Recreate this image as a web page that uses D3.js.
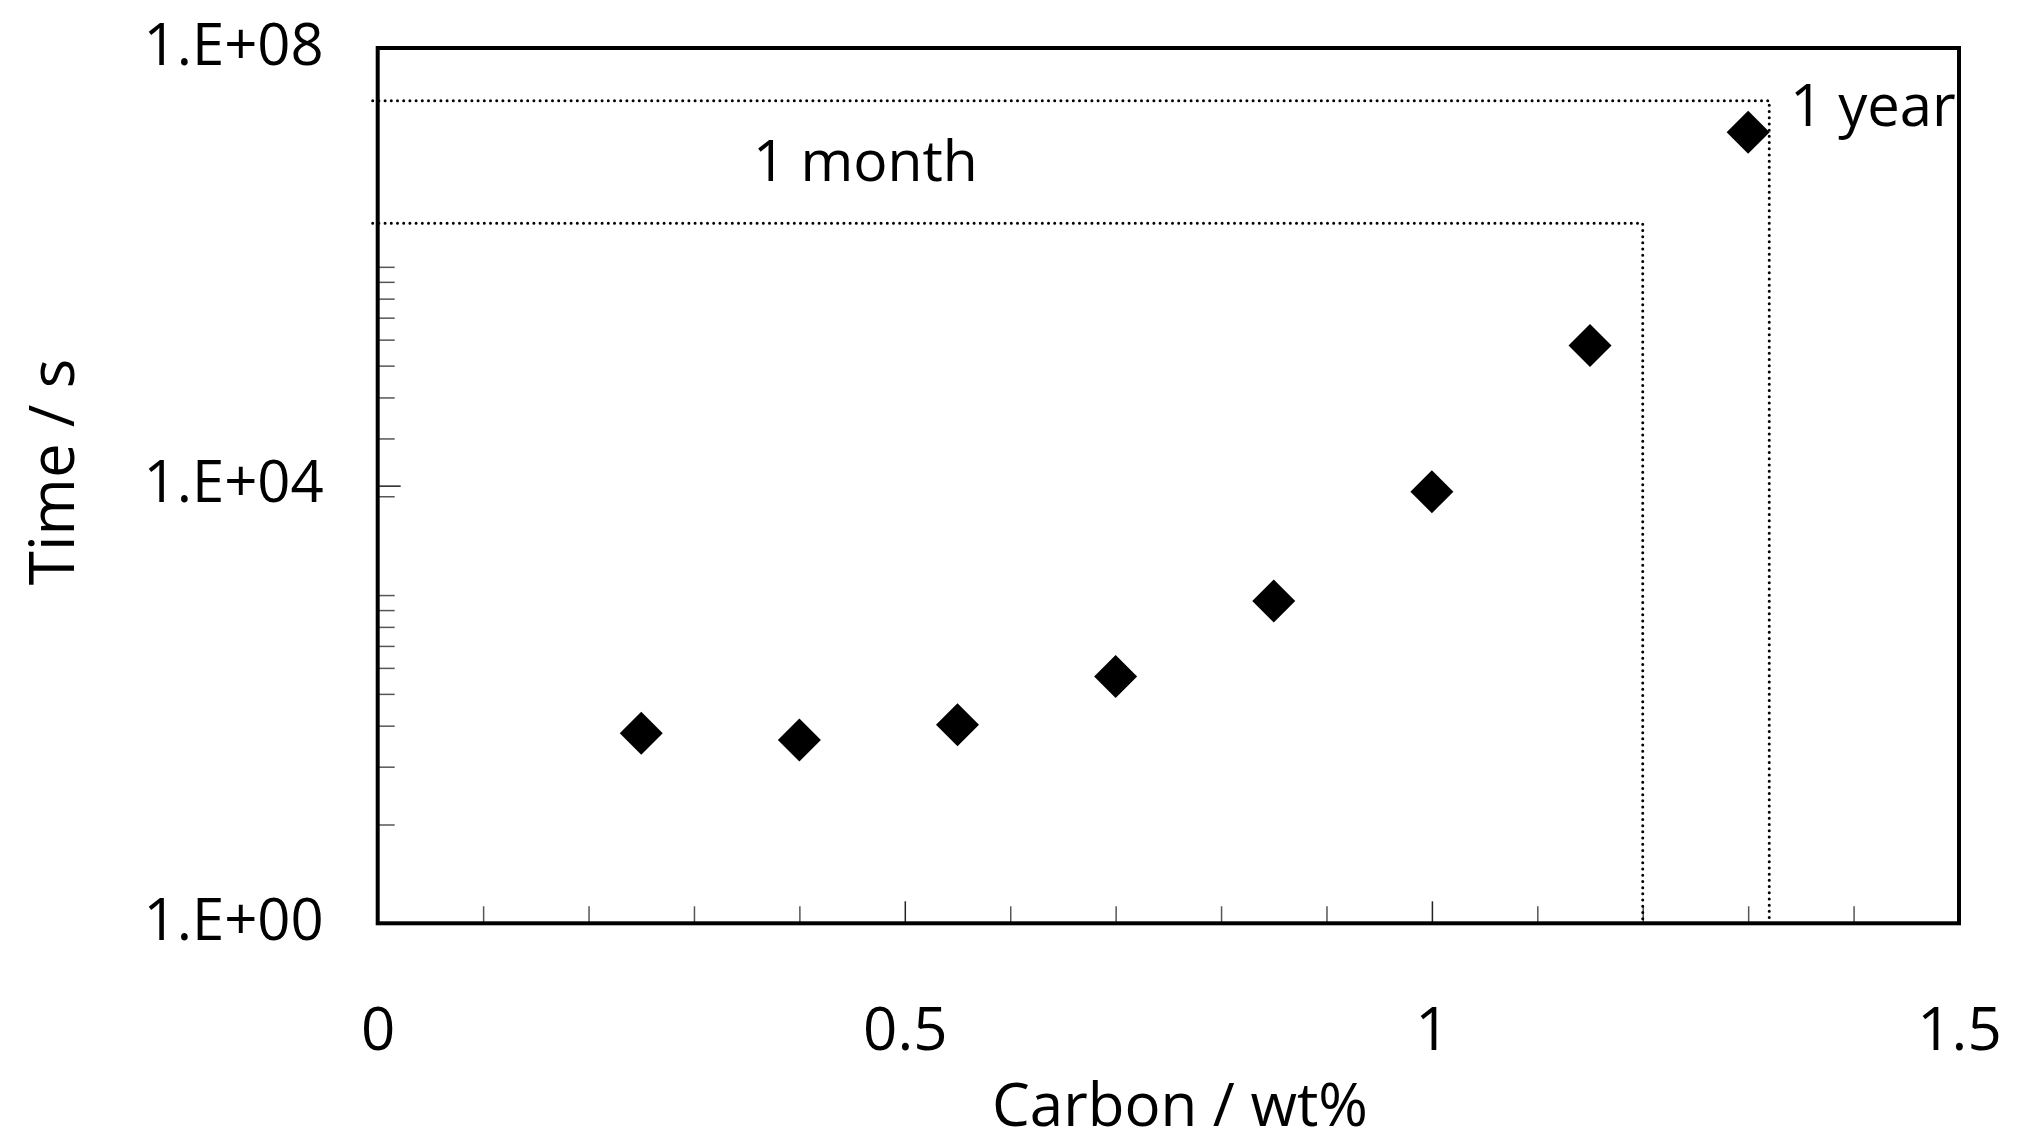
<!DOCTYPE html>
<html>
<head>
<meta charset="utf-8">
<script src="https://cdn.jsdelivr.net/npm/d3@7"></script>
<style>
  html, body { margin: 0; padding: 0; background: #fff; }
  svg text { font-family: "Open Sans", "DejaVu Sans", sans-serif; fill: #000; }
</style>
</head>
<body>
<svg id="chart" width="2023" height="1144"></svg>
<script>
// carbon content vs. time, log time axis
const carbon = [0.25, 0.4, 0.55, 0.7, 0.85, 1.0, 1.15, 1.3];
const timeSec = [54.5, 47.4, 65.4, 180, 883, 8810, 190500, 1.7e7];

// reference limits: label, carbon at the corner, time level
const limitLabels = ["1 month", "1 year"];
const limitCarbon = [1.2, 1.32];
const limitTime = [2.5e6, 3.3e7];

const xMajor = [0, 0.5, 1, 1.5];
const xMinor = [0.1, 0.2, 0.3, 0.4, 0.6, 0.7, 0.8, 0.9, 1.1, 1.2, 1.3, 1.4];
const yMajor = [1, 1e4, 1e8];
const yMinor = [8, 27, 64, 125, 216, 343, 512, 729, 1000,
                8000, 27000, 64000, 125000, 216000, 343000, 512000, 729000, 1e6];

const plotLeft = 377.7, plotRight = 1959, plotTop = 48, plotBottom = 923.3;

const svg = d3.select("#chart");

const x = d3.scaleLinear().domain([0, 1.5]).range([plotLeft, plotRight]);
const y = d3.scaleLog().domain([1, 1e8]).range([plotBottom, plotTop]);

const expFmt = d => "1.E+" + String(Math.round(Math.log10(d))).padStart(2, "0");

// x axis - minor ticks
svg.append("g")
    .attr("transform", `translate(0,${plotBottom})`)
    .call(d3.axisBottom(x).tickValues(xMinor).tickSize(-17).tickFormat(""))
    .call(g => g.select(".domain").remove())
    .call(g => g.selectAll("line").attr("stroke", "#555").attr("stroke-width", 1.5));

// x axis - major ticks + labels
svg.append("g")
    .attr("transform", `translate(0,${plotBottom})`)
    .call(d3.axisBottom(x).tickValues(xMajor).tickSize(-22).tickPadding(84)
        .tickFormat(d => d3.format("")(d)))
    .call(g => g.select(".domain").remove())
    .call(g => g.selectAll("line").attr("stroke", "#222").attr("stroke-width", 1.5))
    .call(g => g.selectAll("text").attr("font-size", 60).attr("fill", "#000"));

// y axis - minor ticks
svg.append("g")
    .attr("transform", `translate(${plotLeft},0)`)
    .call(d3.axisLeft(y).tickValues(yMinor).tickSize(-17).tickFormat(""))
    .call(g => g.select(".domain").remove())
    .call(g => g.selectAll("line").attr("stroke", "#555").attr("stroke-width", 1.5));

// y axis - major ticks + labels
svg.append("g")
    .attr("transform", `translate(${plotLeft},0)`)
    .call(d3.axisLeft(y).tickValues(yMajor).tickSize(-23).tickPadding(54).tickFormat(expFmt))
    .call(g => g.select(".domain").remove())
    .call(g => g.selectAll("line").attr("stroke", "#222").attr("stroke-width", 1.5))
    .call(g => g.selectAll("text").attr("font-size", 58).attr("dy", "0.28em").attr("fill", "#000"));

// dotted limit lines
limitLabels.forEach((lbl, i) => {
    const yy = y(limitTime[i]);
    const xx = x(limitCarbon[i]);
    svg.append("path")
        .attr("d", `M${plotLeft - 5},${yy}H${xx}V${plotBottom}`)
        .attr("fill", "none")
        .attr("stroke", "#000")
        .attr("stroke-width", 3)
        .attr("stroke-linecap", "round")
        .attr("stroke-dasharray", "0,6.2");
});

// limit labels
svg.append("text")
    .attr("x", 753)
    .attr("y", y(limitTime[0]) - 42)
    .attr("font-size", 57)
    .text(limitLabels[0]);

svg.append("text")
    .attr("x", 1790)
    .attr("y", y(limitTime[1]) + 25)
    .attr("font-size", 58)
    .text(limitLabels[1]);

// data points - filled diamonds
const diamond = d3.symbol().type(d3.symbolSquare).size(925);
svg.append("g")
    .selectAll("path")
    .data(carbon.map((c, i) => [c, timeSec[i]]))
    .join("path")
    .attr("d", diamond)
    .attr("transform", d => `translate(${x(d[0])},${y(d[1])}) rotate(45)`)
    .attr("fill", "#000");

// plot frame
svg.append("rect")
    .attr("x", plotLeft)
    .attr("y", plotTop)
    .attr("width", plotRight - plotLeft)
    .attr("height", plotBottom - plotTop)
    .attr("fill", "none")
    .attr("stroke", "#000")
    .attr("stroke-width", 4);

// axis titles
svg.append("text")
    .attr("x", 1180)
    .attr("y", 1126)
    .attr("text-anchor", "middle")
    .attr("font-size", 60)
    .text("Carbon / wt%");

svg.append("text")
    .attr("transform", "translate(74,472) rotate(-90)")
    .attr("text-anchor", "middle")
    .attr("font-size", 62)
    .text("Time / s");
</script>
</body>
</html>
